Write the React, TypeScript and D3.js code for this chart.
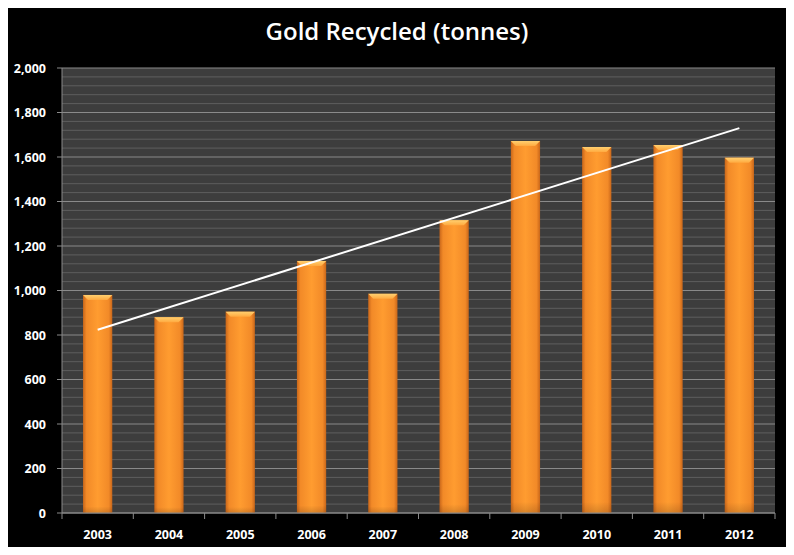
import React from "react";
import * as d3 from "d3";

const years = ["2003", "2004", "2005", "2006", "2007", "2008", "2009", "2010", "2011", "2012"];
const recycled = [980, 880, 905, 1133, 985, 1316, 1672, 1645, 1654, 1597];
const yTicks = [0, 200, 400, 600, 800, 1000, 1200, 1400, 1600, 1800, 2000];
const title = "Gold Recycled (tonnes)";

const W = 794;
const H = 555;
const m = { left: 62, right: 19, top: 68, bottom: 42 };

export default function App() {
  const x = d3
    .scaleBand<string>()
    .domain(years)
    .range([m.left, W - m.right])
    .paddingInner(0.59)
    .paddingOuter(0.295);
  const step = x.step();
  const y = d3.scaleLinear().domain([0, 2000]).range([H - m.bottom, m.top]);
  const minor = d3.range(0, 2001, 40).filter((v) => v % 200 !== 0);

  // linear trendline (least squares)
  const n = recycled.length;
  const xs = d3.range(1, n + 1);
  const mx = d3.mean(xs) as number;
  const my = d3.mean(recycled) as number;
  const slope =
    d3.sum(xs.map((xi, i) => (xi - mx) * (recycled[i] - my))) /
    d3.sum(xs.map((xi) => (xi - mx) * (xi - mx)));
  const fit = (xi: number) => my + slope * (xi - mx);
  const cx = (i: number) => (x(years[i]) as number) + x.bandwidth() / 2;
  const trend = [fit(1), fit(n)];
  const trendPath = d3
    .line<number>()
    .x((_, i) => cx(i === 0 ? 0 : n - 1))
    .y((v) => y(v))(trend);

  const labelStyle: React.CSSProperties = {
    fontFamily: "'Open Sans', 'DejaVu Sans', sans-serif",
    fontWeight: 700,
    fontSize: 12.5,
    fill: "#ffffff",
  };
  const bw = x.bandwidth();

  return (
    <svg width={W} height={H} style={{ display: "block", margin: -8 }}>
      <defs>
        <linearGradient id="barG" x1="0" x2="1" y1="0" y2="0">
          <stop offset="0" stopColor="#c8661a" />
          <stop offset="0.12" stopColor="#f28a28" />
          <stop offset="0.5" stopColor="#ff9c30" />
          <stop offset="0.88" stopColor="#f28a28" />
          <stop offset="1" stopColor="#c8661a" />
        </linearGradient>
        <linearGradient id="barV" x1="0" x2="0" y1="0" y2="1">
          <stop offset="0" stopColor="#000" stopOpacity="0" />
          <stop offset="0.97" stopColor="#000" stopOpacity="0" />
          <stop offset="1" stopColor="#000" stopOpacity="0.15" />
        </linearGradient>
        <linearGradient id="bevel" x1="0" x2="0" y1="0" y2="1">
          <stop offset="0" stopColor="#ffd070" />
          <stop offset="1" stopColor="#ffaa40" />
        </linearGradient>
      </defs>
      <rect x={0.5} y={0.5} width={W - 1} height={H - 1} fill="#000" stroke="#2a2a2a" />
      <text
        x={W / 2}
        y={40}
        textAnchor="middle"
        style={{
          fontFamily: "'Open Sans', 'DejaVu Sans', sans-serif",
          fontWeight: 600,
          fontSize: 24,
          fill: "#ffffff",
        }}
      >
        {title}
      </text>

      <rect
        x={m.left}
        y={m.top}
        width={W - m.left - m.right}
        height={H - m.top - m.bottom}
        fill="#3d3d3d"
      />
      {minor.map((v) => (
        <line key={"mn" + v} x1={m.left} x2={W - m.right} y1={y(v)} y2={y(v)} stroke="#5e5e5e" strokeWidth={1} />
      ))}
      {yTicks.map((v) => (
        <line key={"mj" + v} x1={m.left} x2={W - m.right} y1={y(v)} y2={y(v)} stroke="#8a8a8a" strokeWidth={1} />
      ))}

      {recycled.map((v, i) => {
        const bx = x(years[i]) as number;
        const by = y(v);
        const bh = y(0) - by;
        const bev = 5;
        return (
          <g key={years[i]}>
            <rect x={bx} y={by} width={bw} height={bh} fill="url(#barG)" />
            <rect x={bx} y={by} width={bw} height={bh} fill="url(#barV)" />
            <path
              d={`M${bx},${by}H${bx + bw}L${bx + bw - bev},${by + bev}H${bx + bev}Z`}
              fill="url(#bevel)"
            />
          </g>
        );
      })}

      <path d={trendPath || ""} fill="none" stroke="#ffffff" strokeWidth={2} />

      {/* axes */}
      <line x1={m.left} x2={m.left} y1={m.top} y2={y(0)} stroke="#8a8a8a" />
      <line x1={m.left} x2={W - m.right} y1={y(0)} y2={y(0)} stroke="#8a8a8a" />
      {yTicks.map((v) => (
        <g key={"yt" + v}>
          <line x1={m.left - 5} x2={m.left} y1={y(v)} y2={y(v)} stroke="#8a8a8a" />
          <text x={m.left - 16} y={y(v) + 4.5} textAnchor="end" style={labelStyle}>
            {d3.format(",")(v)}
          </text>
        </g>
      ))}
      {d3.range(0, years.length + 1).map((i) => {
        const tx = m.left + i * step;
        return <line key={"xt" + i} x1={tx} x2={tx} y1={y(0)} y2={y(0) + 6} stroke="#8a8a8a" />;
      })}
      {years.map((yr, i) => (
        <text key={"xl" + yr} x={cx(i)} y={y(0) + 26} textAnchor="middle" style={labelStyle}>
          {yr}
        </text>
      ))}
    </svg>
  );
}
